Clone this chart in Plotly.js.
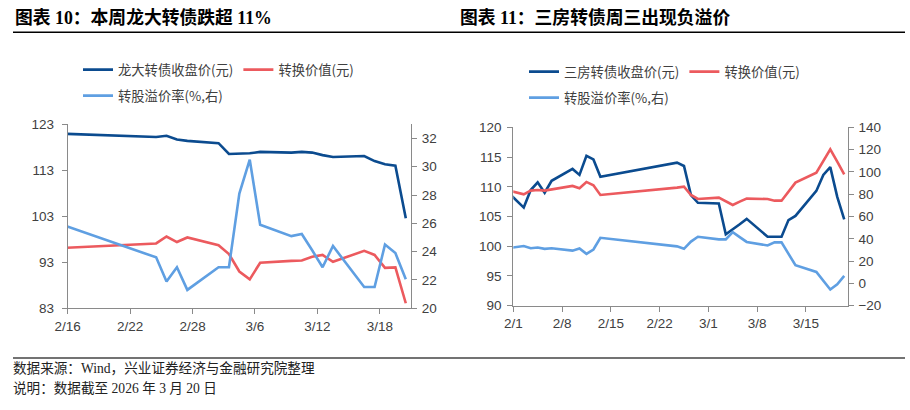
<!DOCTYPE html>
<html><head><meta charset="utf-8">
<script src="https://cdn.plot.ly/plotly-3.0.1.min.js"></script>
<style>html,body{margin:0;padding:0;background:#fff}#chart{width:910px;height:410px}</style>
</head><body><div id="chart"></div>
<script>
// ---- 图表10 龙大转债 ----
const ldDates = ['2026-02-13','2026-02-24','2026-02-25','2026-02-26','2026-02-27','2026-03-02','2026-03-03','2026-03-04','2026-03-05','2026-03-06','2026-03-09','2026-03-10','2026-03-11','2026-03-12','2026-03-13','2026-03-16','2026-03-17','2026-03-18','2026-03-19','2026-03-20'];
const ldClose = [121.1,120.25,120.5,119.7,119.4,118.9,116.55,116.6,116.7,117.0,116.85,117.0,116.85,116.3,115.9,116.1,115.0,114.3,114.0,102.6];
const ldConv  = [95.9,97.1,98.6,97.4,98.4,96.7,94.8,91.0,89.3,92.9,93.3,93.4,94.2,94.6,93.1,95.5,94.6,91.8,91.9,84.1];
const ldPrem  = [26.4,23.6,21.9,22.9,21.3,22.9,22.9,28.1,30.5,25.9,25.1,25.25,24.1,22.9,24.4,21.5,21.5,24.5,23.9,22.05];

// ---- 图表11 三房转债 ----
const sfDates = ['2026-01-30','2026-02-02','2026-02-03','2026-02-04','2026-02-05','2026-02-06','2026-02-09','2026-02-10','2026-02-11','2026-02-12','2026-02-13','2026-02-24','2026-02-25','2026-02-26','2026-02-27','2026-03-02','2026-03-03','2026-03-04','2026-03-05','2026-03-06','2026-03-09','2026-03-10','2026-03-11','2026-03-12','2026-03-13','2026-03-16','2026-03-17','2026-03-18','2026-03-19','2026-03-20'];
const sfClose = [109.9,106.5,109.45,110.75,109.0,111.0,113.0,112.0,115.2,114.6,111.7,114.05,113.5,108.6,107.3,107.2,102.0,102.8,103.7,104.6,101.6,101.6,101.6,104.4,105.1,109.3,112.0,113.3,108.3,104.5];
const sfConv  = [84.7,79.9,83.2,83.8,83.2,84.4,87.4,85.3,91.0,88.0,79.3,85.9,86.8,79.3,75.7,76.9,73.3,70.3,73.3,76.0,75.7,74.2,74.2,82.3,90.4,99.3,109.2,120.3,109.2,97.8];
const sfPrem  = [31.0,33.5,31.6,32.2,31.0,31.5,29.4,31.3,26.5,30.4,40.9,33.2,31.0,37.5,41.8,39.5,39.5,46.0,41.5,37.2,34.0,36.8,36.8,27.0,16.3,10.3,2.8,-5.5,-0.8,6.8];

const ldNames = ['龙大转债收盘价(元)','转换价值(元)','转股溢价率(%,右)'];
const sfNames = ['三房转债收盘价(元)','转换价值(元)','转股溢价率(%,右)'];
const titles = ['图表 10：本周龙大转债跌超 11%','图表 11：三房转债周三出现负溢价'];
const notes = ['数据来源：Wind，兴业证券经济与金融研究院整理','说明：数据截至 2026 年 3 月 20 日'];

const W = 910, H = 410;
const px = x => x / W, py = y => 1 - y / H;
const mid = d => d + ' 12:00';
const C_DARK = '#0b4b8f', C_RED = '#ec5a5e', C_LIGHT = '#5f9fe2';
const LW = 2.6;

const traces = [
  {x: ldDates.map(mid), y: ldClose, name: ldNames[0], line: {color: C_DARK, width: LW}, xaxis: 'x', yaxis: 'y', legend: 'legend'},
  {x: ldDates.map(mid), y: ldConv, name: ldNames[1], line: {color: C_RED, width: LW}, xaxis: 'x', yaxis: 'y', legend: 'legend'},
  {x: ldDates.map(mid), y: ldPrem, name: ldNames[2], line: {color: C_LIGHT, width: LW}, xaxis: 'x', yaxis: 'y2', legend: 'legend2'},
  {x: sfDates.map(mid), y: sfClose, name: sfNames[0], line: {color: C_DARK, width: LW}, xaxis: 'x2', yaxis: 'y3', legend: 'legend3'},
  {x: sfDates.map(mid), y: sfConv, name: sfNames[1], line: {color: C_RED, width: LW}, xaxis: 'x2', yaxis: 'y4', legend: 'legend3'},
  {x: sfDates.map(mid), y: sfPrem, name: sfNames[2], line: {color: C_LIGHT, width: LW}, xaxis: 'x2', yaxis: 'y4', legend: 'legend4'}
].map(t => Object.assign({type: 'scatter', mode: 'lines', hoverinfo: 'skip'}, t));

const tickFont = {family: 'Liberation Sans, Arial, sans-serif', size: 13.5, color: '#404040'};
const ax = {showline: true, linecolor: '#8a8a8a', linewidth: 1, ticks: 'outside', ticklen: 5, tickcolor: '#8a8a8a', tickwidth: 1,
  showgrid: false, zeroline: false, tickfont: tickFont, fixedrange: true, automargin: false};
const DAY = 86400000;

const legFont = {family: 'Noto Sans CJK SC, sans-serif', size: 13.3, color: '#404040'};
const leg = (x, y) => ({orientation: 'h', x: px(x), y: py(y), xanchor: 'left', yanchor: 'middle', font: legFont,
  bgcolor: 'rgba(0,0,0,0)', borderwidth: 0, itemclick: false, itemdoubleclick: false, tracegroupgap: 0});

const titleFont = {family: 'Liberation Serif, Noto Sans CJK SC, serif', size: 17.8, color: '#000'};
const noteFont = {family: 'Liberation Serif, Noto Sans CJK SC, serif', size: 13.6, color: '#222'};

const layout = {
  width: W, height: H, margin: {l: 0, r: 0, t: 0, b: 0}, paper_bgcolor: '#fff', plot_bgcolor: 'rgba(0,0,0,0)',
  showlegend: true,
  xaxis: Object.assign({}, ax, {type: 'date', domain: [px(67.7), px(411)], anchor: 'y', range: ['2026-02-16', '2026-03-21'],
    tick0: '2026-02-16', dtick: 6 * DAY, tickformat: '%-m/%-d'}),
  yaxis: Object.assign({}, ax, {domain: [py(308.3), py(124.3)], anchor: 'x', range: [83, 123], tick0: 83, dtick: 10, ticklabelstandoff: 5}),
  yaxis2: Object.assign({}, ax, {overlaying: 'y', side: 'right', anchor: 'x', range: [20, 33], tick0: 20, dtick: 2, ticklabelstandoff: 2}),
  xaxis2: Object.assign({}, ax, {type: 'date', domain: [px(513.3), px(847.7)], anchor: 'y3', range: ['2026-02-01', '2026-03-21'],
    tick0: '2026-02-01', dtick: 7 * DAY, tickformat: '%-m/%-d'}),
  yaxis3: Object.assign({}, ax, {domain: [py(305.7), py(127.3)], anchor: 'x2', range: [90, 120], tick0: 90, dtick: 5, ticklabelstandoff: 3}),
  yaxis4: Object.assign({}, ax, {overlaying: 'y3', side: 'right', anchor: 'x2', range: [-20, 140], tick0: -20, dtick: 20, ticklabelstandoff: 2}),
  legend: leg(78, 70), legend2: leg(78, 96), legend3: leg(524, 72), legend4: leg(524, 98),
  annotations: [
    {text: '<b>' + titles[0] + '</b>', x: px(13), y: py(18), xref: 'paper', yref: 'paper', xanchor: 'left', yanchor: 'middle', showarrow: false, font: titleFont},
    {text: '<b>' + titles[1] + '</b>', x: px(458), y: py(18), xref: 'paper', yref: 'paper', xanchor: 'left', yanchor: 'middle', showarrow: false, font: titleFont},
    {text: notes[0], x: px(11), y: py(368), xref: 'paper', yref: 'paper', xanchor: 'left', yanchor: 'middle', showarrow: false, font: noteFont},
    {text: notes[1], x: px(11), y: py(388), xref: 'paper', yref: 'paper', xanchor: 'left', yanchor: 'middle', showarrow: false, font: noteFont}
  ],
  shapes: [
    {type: 'line', xref: 'paper', yref: 'paper', x0: px(13), x1: px(905), y0: py(32.3), y1: py(32.3), line: {color: '#000', width: 1.5}},
    {type: 'line', xref: 'paper', yref: 'paper', x0: px(13), x1: px(905), y0: py(358), y1: py(358), line: {color: '#444', width: 1.5}}
  ]
};

Plotly.newPlot('chart', traces, layout, {displayModeBar: false, staticPlot: true});
</script></body></html>
